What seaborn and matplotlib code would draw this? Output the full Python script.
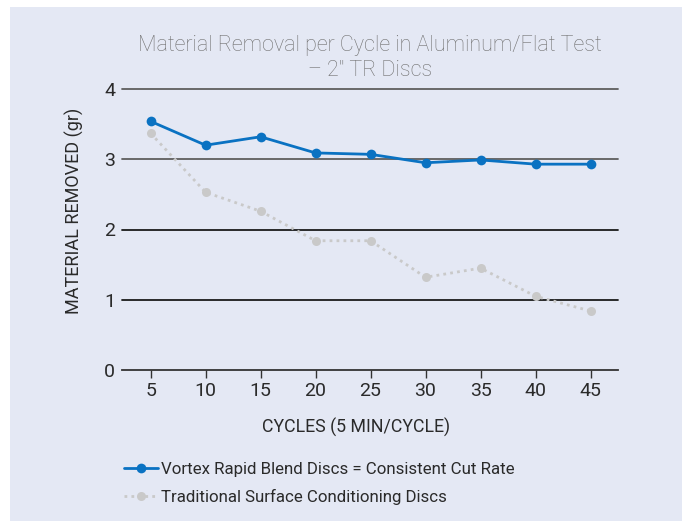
import matplotlib
matplotlib.use("Agg")
import matplotlib.pyplot as plt
from matplotlib.patches import Rectangle
import pandas as pd
import seaborn as sns

cycles = [5, 10, 15, 20, 25, 30, 35, 40, 45]
vortex = [3.54, 3.20, 3.32, 3.09, 3.07, 2.95, 2.99, 2.93, 2.93]
traditional = [3.37, 2.53, 2.26, 1.84, 1.84, 1.32, 1.45, 1.05, 0.84]
y_ticks = [0, 1, 2, 3, 4]
vortex_label = "Vortex Rapid Blend Discs = Consistent Cut Rate"
traditional_label = "Traditional Surface Conditioning Discs"

sns.set_style("white")
FONT = ["Roboto", "Liberation Sans", "DejaVu Sans"]
plt.rcParams["font.family"] = FONT
plt.rcParams["font.weight"] = "normal"
plt.rcParams["axes.labelweight"] = "normal"

W, H = 682, 521
fig = plt.figure(figsize=(W / 100, H / 100), dpi=100, facecolor="white")

# pale panel behind the chart
fig.patches.append(Rectangle((10 / W, 0), 1 - 10 / W, (H - 7) / H,
                             transform=fig.transFigure, facecolor="#e4e8f4",
                             edgecolor="none", zorder=-5))

ax = fig.add_axes([122 / W, (H - 370) / H, (618 - 122) / W, (370 - 89) / H])
ax.set_facecolor("none")
ax.set_zorder(2)

df_v = pd.DataFrame({"cycle": cycles, "removed": vortex})
df_t = pd.DataFrame({"cycle": cycles, "removed": traditional})

sns.lineplot(data=df_t, x="cycle", y="removed", ax=ax, color="#c9c9c9",
             linewidth=2.0, linestyle=(0, (1, 1.5)), marker="o", markersize=6.5,
             markeredgewidth=0, label=traditional_label, zorder=3, clip_on=False)
sns.lineplot(data=df_v, x="cycle", y="removed", ax=ax, color="#0a72c2",
             linewidth=2.0, marker="o", markersize=7, markeredgewidth=0,
             label=vortex_label, zorder=4, clip_on=False)

# horizontal reference lines
for yv in [1, 2, 3, 4]:
    col = "#5e5e5e" if yv >= 3 else "#1a1a1a"
    ax.axhline(yv, color=col, linewidth=1.3, zorder=2, clip_on=False)

ax.set_xlim(2.4, 47.5)
ax.set_ylim(0, 4)
ax.set_xticks(cycles)
ax.set_yticks(y_ticks)
ax.tick_params(axis="x", direction="out", length=6, width=1, color="#333333",
               pad=3, labelsize=14, labelcolor="#2a2a2a", bottom=True)
ax.tick_params(axis="y", length=0, pad=5, labelsize=14, labelcolor="#2a2a2a")

for side in ["left", "right", "top"]:
    ax.spines[side].set_visible(False)
ax.spines["bottom"].set_color("#333333")
ax.spines["bottom"].set_linewidth(1.3)

ax.set_xlabel("CYCLES (5 MIN/CYCLE)", fontsize=12.8, color="#2a2a2a")
ax.xaxis.set_label_coords((356 - 122) / (618 - 122), -0.17)
ax.set_ylabel("MATERIAL REMOVED (gr)", fontsize=13, color="#2a2a2a")
ax.yaxis.set_label_coords(-(122 - 84) / (618 - 122), (370 - 211) / (370 - 89))

fig.text(370 / W, 1 - 58 / H, "Material Removal per Cycle in Aluminum/Flat Test\n\u2013 2\" TR Discs",
         ha="center", va="center", fontsize=15.5, color="#707070",
         linespacing=1.2, fontweight="light")

handles, labels = ax.get_legend_handles_labels()
order = [labels.index(vortex_label), labels.index(traditional_label)]
ax.legend([handles[i] for i in order], [labels[i] for i in order],
          loc="upper left", bbox_to_anchor=(112 / W, 1 - 450 / H),
          bbox_transform=fig.transFigure, frameon=False, fontsize=12.2,
          borderpad=0.2, handlelength=2.0, handletextpad=0.2, labelspacing=0.7,
          labelcolor="#2a2a2a")

fig.savefig("out.png", dpi=100, facecolor="white")
